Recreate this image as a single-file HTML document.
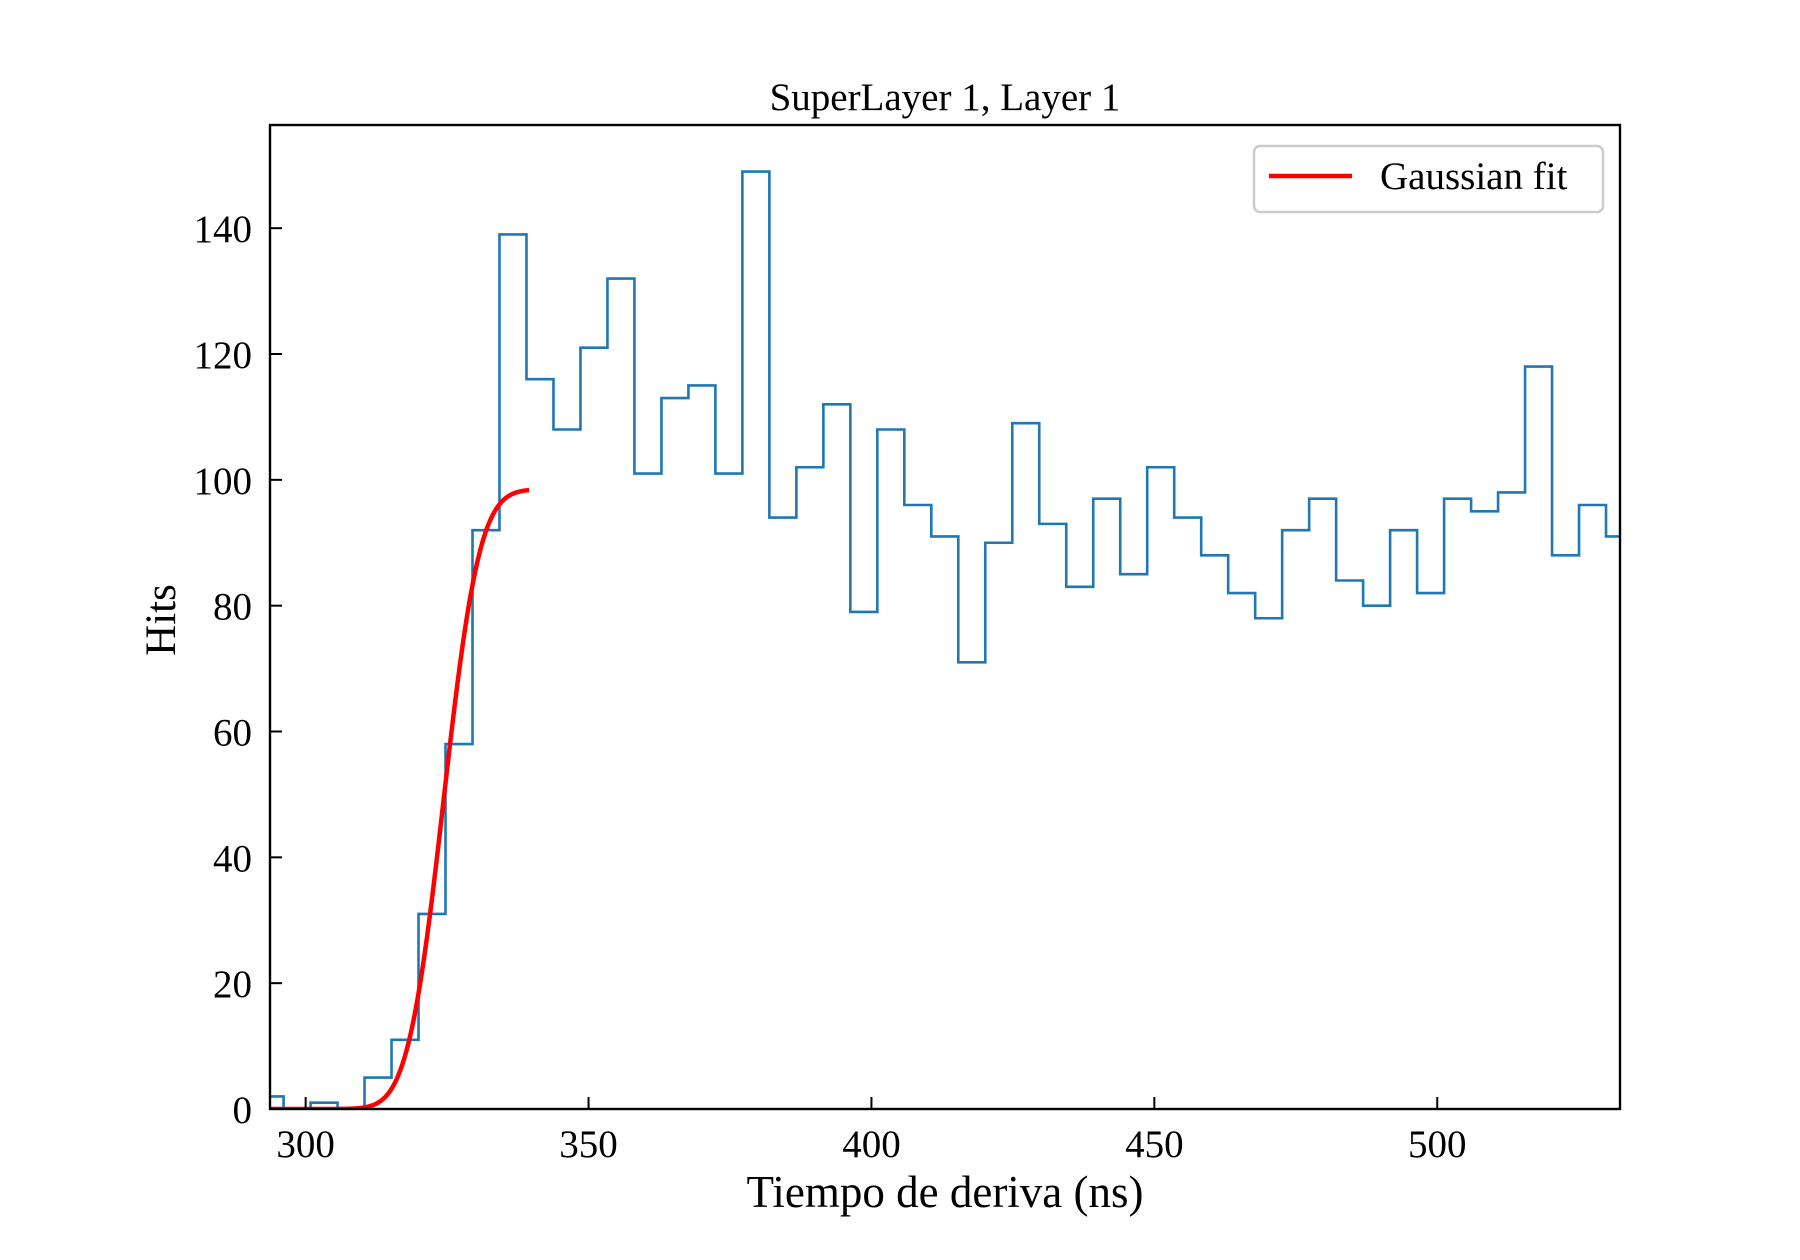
<!DOCTYPE html>
<html><head><meta charset="utf-8"><style>body{margin:0;background:#fff}svg{display:block}text{font-family:"Liberation Serif",serif;fill:#000}</style></head>
<body>
<svg id="chart" width="1800" height="1260" viewBox="0 0 1800 1260" xmlns="http://www.w3.org/2000/svg">
<rect width="1800" height="1260" fill="#fff"/>
<text x="945" y="110" font-size="39" text-anchor="middle">SuperLayer 1, Layer 1</text>
<g id="plot"></g>
<text x="945" y="1207" font-size="45" text-anchor="middle">Tiempo de deriva (ns)</text>
<text x="0" y="0" font-size="43" text-anchor="middle" transform="translate(175,620) rotate(-90)">Hits</text>
<g>
<rect x="1254" y="146" width="349" height="66" rx="6" fill="#fff" stroke="#ccc" stroke-width="2.5"/>
<line x1="1269" y1="176" x2="1352" y2="176" stroke="#ff0000" stroke-width="4.5"/>
<text x="1380" y="189" font-size="39">Gaussian fit</text>
</g>
</svg>
<script>
const binStart = 291.33;
const binWidth = 4.77;
const counts = [2,0,1,0,5,11,31,58,92,139,116,108,121,132,101,113,115,101,149,94,102,112,79,108,96,91,71,90,109,93,83,97,85,102,94,88,82,78,92,97,84,80,92,82,97,95,98,118,88,96,91];
const xTicks = [300,350,400,450,500];
const yTicks = [0,20,40,60,80,100,120,140];
const fitAmp = 98.5, fitMu = 324.4, fitSigma = 5.0, fitEnd = 339.5;
const X0=270,X1=1620,Y0=1109,Y1=125,xmin=293.7,xmax=532.3,ymin=0,ymax=156.4;
const sx=v=>X0+(v-xmin)/(xmax-xmin)*(X1-X0);
const sy=v=>Y0-(v-ymin)/(ymax-ymin)*(Y0-Y1);
const NS="http://www.w3.org/2000/svg";
const plot=document.getElementById('plot');
function mk(t,a){const e=document.createElementNS(NS,t);for(const k in a)e.setAttribute(k,a[k]);return e;}
const cp=mk('clipPath',{id:'clip'});cp.appendChild(mk('rect',{x:X0,y:Y1,width:X1-X0,height:Y0-Y1}));plot.appendChild(cp);
let d=`M${sx(binStart)},${sy(0)}`;
counts.forEach((c,i)=>{const a=binStart+i*binWidth,b=a+binWidth;d+=` L${sx(a)},${sy(c)} L${sx(b)},${sy(c)}`;});
d+=` L${sx(binStart+counts.length*binWidth)},${sy(0)}`;
const hist=mk('path',{d:d,fill:'none',stroke:'#1f77b4','stroke-width':2.6,'clip-path':'url(#clip)'});


plot.appendChild(hist);
function erf(x){const s=Math.sign(x);x=Math.abs(x);const t=1/(1+0.3275911*x);const y=1-(((((1.061405429*t-1.453152027)*t)+1.421413741)*t-0.284496736)*t+0.254829592)*t*Math.exp(-x*x);return s*y;}
let fd='';
for(let i=0;i<=300;i++){const x=xmin+(fitEnd-xmin)*i/300;const y=fitAmp/2*(1+erf((x-fitMu)/(fitSigma*Math.SQRT2)));fd+=(i?' L':'M')+sx(x).toFixed(2)+','+sy(y).toFixed(2);}
const fit=mk('path',{d:fd,fill:'none',stroke:'#ff0000','stroke-width':4.5,'clip-path':'url(#clip)'});


plot.appendChild(fit);
const fr=mk('rect',{x:X0,y:Y1,width:X1-X0,height:Y0-Y1,fill:'none',stroke:'#000','stroke-width':2.4});


plot.appendChild(fr);
xTicks.forEach(v=>{const x=sx(v);
const t=mk('line',{x1:x,y1:Y0,x2:x,y2:Y0-12,stroke:'#000','stroke-width':2});


plot.appendChild(t);
const l=mk('text',{x:x,y:1157,'font-size':39,'text-anchor':'middle'});l.textContent=v;


plot.appendChild(l);});
yTicks.forEach(v=>{const y=sy(v);
const t=mk('line',{x1:X0,y1:y,x2:X0+12,y2:y,stroke:'#000','stroke-width':2});


plot.appendChild(t);
const l=mk('text',{x:252,y:y+14,'font-size':39,'text-anchor':'end'});l.textContent=v;


plot.appendChild(l);});
</script>
</body></html>
